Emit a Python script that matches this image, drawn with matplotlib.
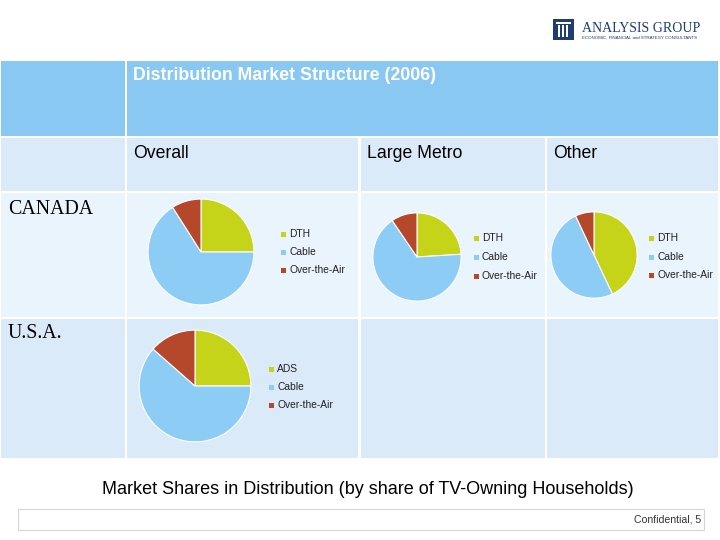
import matplotlib
matplotlib.use('Agg')
import matplotlib.pyplot as plt
from matplotlib.patches import Rectangle

# data (percent of TV-owning households)
canada_labels = ['DTH', 'Cable', 'Over-the-Air']
usa_labels = ['ADS', 'Cable', 'Over-the-Air']
canada_overall = [25, 66, 9]
canada_metro = [24, 66.5, 9.5]
canada_other = [43, 50, 7]
usa_overall = [25, 61.5, 13.5]
column_titles = ['Overall', 'Large Metro', 'Other']
row_titles = ['CANADA', 'U.S.A.']

colors = ['#C5D319', '#8DCCF4', '#B5482B']

W, H = 720, 540
fig = plt.figure(figsize=(7.2, 5.4), dpi=100)
bg = fig.add_axes([0, 0, 1, 1])
bg.set_xlim(0, W)
bg.set_ylim(H, 0)
bg.axis('off')

def box(x0, y0, x1, y1, color, **kw):
    bg.add_patch(Rectangle((x0, y0), x1 - x0, y1 - y0, facecolor=color, edgecolor=kw.get('ec', 'none'), lw=kw.get('lw', 0)))

# table background
cols = [(1, 125), (127, 358), (361, 545), (547, 718)]
box(1, 61, 125, 136, '#88C8F2')
box(127, 61, 718, 136, '#88C8F2')
for x0, x1 in cols:
    box(x0, 138, x1, 191, '#DAEAF9')
    box(x0, 193, x1, 317, '#EAF4FC')
    box(x0, 319, x1, 458, '#DAEAF9')

font = 'Liberation Sans'
bg.text(133, 76, 'Distribution Market Structure (2006)', color='white', fontsize=12.8,
        fontweight='bold', family=font, va='center')
for x, t in zip([133, 367, 553], column_titles):
    bg.text(x, 153, t, fontsize=12.7, family=font, va='center')
bg.text(8, 210, row_titles[0], fontsize=14.3, family='Liberation Serif', va='center')
bg.text(8, 333, row_titles[1], fontsize=14.3, family='Liberation Serif', va='center')

def pie(values, labels, cx, cy, r, lx, ly):
    ax = fig.add_axes([(cx - r) / W, 1 - (cy + r) / H, 2 * r / W, 2 * r / H])
    ax.pie(values, colors=colors, startangle=90, counterclock=False,
           wedgeprops={'edgecolor': 'white', 'linewidth': 0.8})
    ax.set_xlim(-1.02, 1.02)
    ax.set_ylim(-1.02, 1.02)
    for i, lab in enumerate(labels):
        y = ly[i]
        bg.add_patch(Rectangle((lx - 8.5, y - 2.5), 5, 5, facecolor=colors[i], edgecolor='none'))
        bg.text(lx, y, lab, fontsize=7.4, family=font, va='center', color='#222222')

pie(canada_overall, canada_labels, 201, 252, 54, 289, [234, 252, 270])
pie(canada_metro, canada_labels, 417, 257, 45, 482, [238, 257, 276])
pie(canada_other, canada_labels, 594, 255, 44, 657, [238, 257, 275])
pie(usa_overall, usa_labels, 195, 386, 57, 277, [369, 387, 405])

bg.text(368, 489, 'Market Shares in Distribution (by share of TV-Owning Households)',
        fontsize=13, family=font, ha='center', va='center')

# footer
box(18, 509, 704, 530, 'white', ec='#D5D5D5', lw=0.8)
bg.text(701, 519.5, 'Confidential, 5', fontsize=7.6, family=font, ha='right', va='center', color='#333333')

# logo
navy = '#1F3C73'
box(553, 19, 574, 40, navy)
box(556, 22, 571, 24, 'white')
for px in [558, 562, 566]:
    box(px, 25, px + 1.5, 37, 'white')
bg.text(582, 28, 'ANALYSIS GROUP', fontsize=10, family='Liberation Serif', color=navy, va='center')
bg.text(582, 38, 'ECONOMIC, FINANCIAL and STRATEGY CONSULTANTS', fontsize=3.2, family=font,
        color=navy, va='center')

fig.savefig('out.png', dpi=100)
